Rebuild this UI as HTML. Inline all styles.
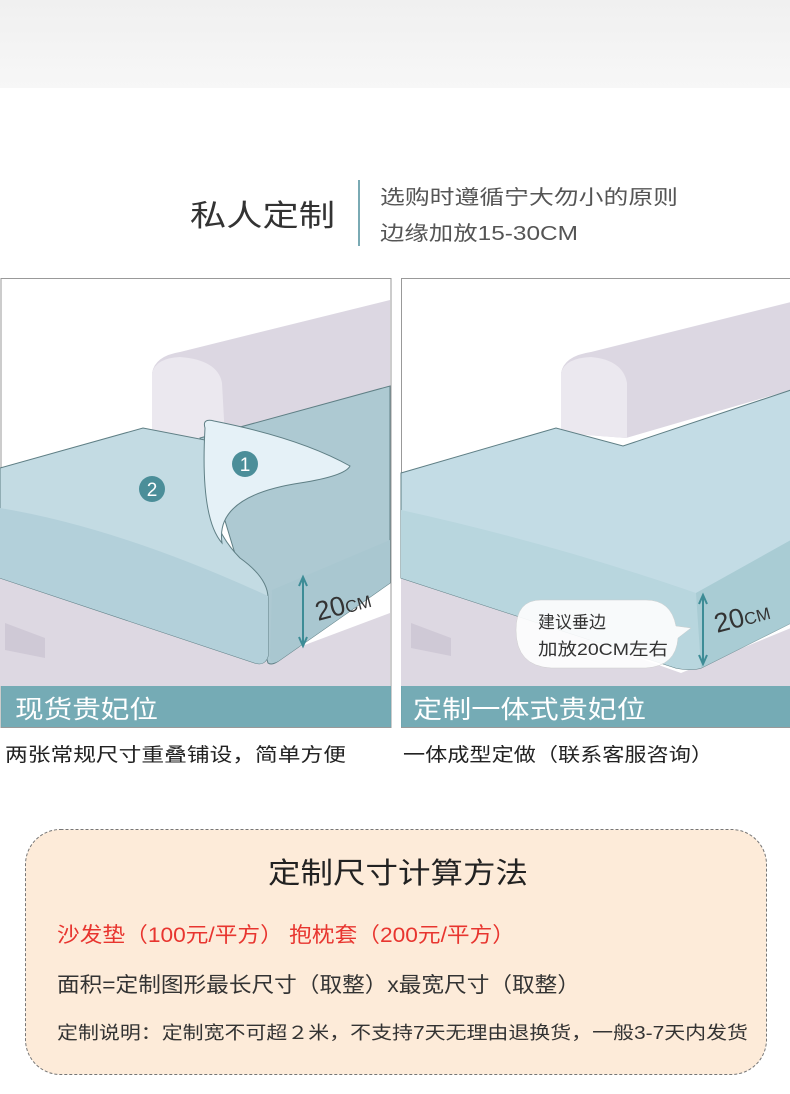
<!DOCTYPE html>
<html><head><meta charset="utf-8"><style>
html,body{margin:0;padding:0;background:#fff}
svg{display:block}
text{font-family:"Liberation Sans","Noto Sans CJK SC",sans-serif}
</style></head><body>
<svg width="790" height="1094" viewBox="0 0 790 1094" xmlns="http://www.w3.org/2000/svg">
<defs>
<linearGradient id="tg" x1="0" y1="0" x2="0" y2="1"><stop offset="0" stop-color="#f0f0f0"/><stop offset="1" stop-color="#f7f7f7"/></linearGradient>
</defs>
<rect x="0" y="0" width="790" height="88" fill="url(#tg)"/>

<text x="190" y="226" font-size="30" fill="#333" textLength="145" lengthAdjust="spacingAndGlyphs">私人定制</text>
<rect x="358" y="180" width="2" height="66" fill="#7aaab4"/>
<text x="380" y="204" font-size="20" fill="#555" textLength="298" lengthAdjust="spacingAndGlyphs">选购时遵循宁大勿小的原则</text>
<text x="380" y="240" font-size="20" fill="#555" textLength="198" lengthAdjust="spacingAndGlyphs">边缘加放15-30CM</text>

<!-- LEFT PANEL -->
<g transform="translate(0,278)">
<rect x="1" y="0.5" width="390" height="449" fill="#fff" stroke="#999"/>
<path d="M0,290 L270,380 L390,335 L390,408 L0,408 Z" fill="#ddd8e2"/>
<path d="M5,345 L45,360 L45,380 L5,372 Z" fill="#cfc9d6"/>
<path d="M152,165 L152,95 Q155,78 180,74 L390,22 L390,110 L225,160 Z" fill="#dcd7e2"/>
<path d="M152,165 L152,95 Q156,80 180,79 Q218,82 222,105 L225,160 Z" fill="#ebe8ef"/>
<!-- right cushion -->
<path d="M200,160 L390,108 L390,305 L280,382 Q272,388 268,385 Z" fill="#adc9d2" stroke="#5f7f85" stroke-width="1"/>
<path d="M272,312 L390,262 L390,305 L280,382 Q272,388 270,380 Z" fill="#a9c7d0"/>
<!-- left cushion -->
<path d="M0,190 L143,150 L205,162 Q200,240 240,280 Q268,300 268,320 L268,378 Q265,388 255,385 L0,300 Z" fill="#c3dbe3" stroke="#5f7f85" stroke-width="1"/>
<path d="M0,230 Q120,250 268,318 L268,378 Q265,388 255,385 L0,300 Z" fill="#b3d0da"/>
<!-- flap -->
<path d="M205,150 Q202,140 214,143 Q300,160 350,188 Q345,198 300,205 Q215,218 222,265 Q200,240 205,150 Z" fill="#e5f1f7" stroke="#5f7f85" stroke-width="1"/>
<circle cx="245" cy="186" r="13" fill="#4b8e99"/><text x="245" y="193" font-size="19" fill="#fff" text-anchor="middle">1</text>
<circle cx="152" cy="211" r="13" fill="#4b8e99"/><text x="152" y="218" font-size="19" fill="#fff" text-anchor="middle">2</text>
<line x1="303" y1="300" x2="303" y2="367" stroke="#3d8c96" stroke-width="2"/>
<path d="M299,308 L303,299 L307,308 M299,359 L303,368 L307,359" fill="none" stroke="#3d8c96" stroke-width="2"/>
<text x="318" y="343" font-size="27" fill="#333" transform="rotate(-15 318 343)">20<tspan font-size="17">CM</tspan></text>
<rect x="1" y="408" width="390" height="41" fill="#6ea6b1" opacity="0.95"/>
<text x="15" y="440" font-size="25" fill="#fff" textLength="143" lengthAdjust="spacingAndGlyphs">现货贵妃位</text>
</g>

<!-- RIGHT PANEL -->
<g transform="translate(401,278)">
<rect x="0.5" y="0.5" width="389" height="449" fill="#fff" stroke="#999"/>
<path d="M0,295 L280,395 L390,350 L390,408 L0,408 Z" fill="#ddd8e2"/>
<path d="M10,345 L50,360 L50,378 L10,370 Z" fill="#cfc9d6"/>
<path d="M160,155 L160,95 Q163,78 190,74 L390,24 L390,112 L225,160 Z" fill="#dcd7e2"/>
<path d="M160,155 L160,95 Q164,80 190,79 Q222,82 226,105 L226,160 Z" fill="#ebe8ef"/>
<path d="M0,195 L155,150 L222,168 L390,112 L390,345 L300,390 Q290,393 275,390 L0,300 Z" fill="#c3dce5" stroke="#5f7f85" stroke-width="1"/>
<path d="M0,232 Q150,265 295,315 L390,262 L390,345 L300,390 Q290,393 275,390 L0,300 Z" fill="#b8d6de"/>
<path d="M295,315 L390,262 L390,345 L300,390 Z" fill="#a9ccd4"/>
<path d="M140,322 Q115,322 115,352 Q115,388 150,390 L245,390 Q275,388 277,360 L290,350 L275,348 Q270,322 245,322 Z" fill="#fff" opacity="0.9" stroke="#ccc" stroke-width="0.5"/>
<text x="137" y="350" font-size="17" fill="#333">建议垂边</text>
<text x="137" y="377" font-size="17" fill="#333" textLength="130" lengthAdjust="spacingAndGlyphs">加放20CM左右</text>
<line x1="302" y1="318" x2="302" y2="385" stroke="#3d8c96" stroke-width="2"/>
<path d="M298,326 L302,317 L306,326 M298,377 L302,386 L306,377" fill="none" stroke="#3d8c96" stroke-width="2"/>
<text x="316" y="355" font-size="27" fill="#333" transform="rotate(-15 316 355)">20<tspan font-size="17">CM</tspan></text>
<rect x="0" y="408" width="390" height="41" fill="#6ea6b1" opacity="0.95"/>
<text x="12" y="440" font-size="25" fill="#fff" textLength="233" lengthAdjust="spacingAndGlyphs">定制一体式贵妃位</text>
</g>

<text x="5" y="761" font-size="19" fill="#222" textLength="341" lengthAdjust="spacingAndGlyphs">两张常规尺寸重叠铺设，简单方便</text>
<text x="403" y="761" font-size="19" fill="#222" textLength="310" lengthAdjust="spacingAndGlyphs">一体成型定做（联系客服咨询）</text>

<rect x="25.5" y="829.5" width="741" height="245" rx="35" fill="#fdebd9" stroke="#777" stroke-dasharray="3,2"/>
<text x="268" y="883" font-size="29" fill="#222" textLength="260" lengthAdjust="spacingAndGlyphs">定制尺寸计算方法</text>
<text x="57" y="942" font-size="21" fill="#e8352f" textLength="458" lengthAdjust="spacingAndGlyphs">沙发垫（100元/平方） 抱枕套（200元/平方）</text>
<text x="57" y="992" font-size="21" fill="#333" textLength="523" lengthAdjust="spacingAndGlyphs">面积=定制图形最长尺寸（取整）x最宽尺寸（取整）</text>
<text x="57" y="1039" font-size="18" fill="#333" textLength="691" lengthAdjust="spacingAndGlyphs">定制说明：定制宽不可超２米，不支持7天无理由退换货，一般3-7天内发货</text>
</svg>
</body></html>
